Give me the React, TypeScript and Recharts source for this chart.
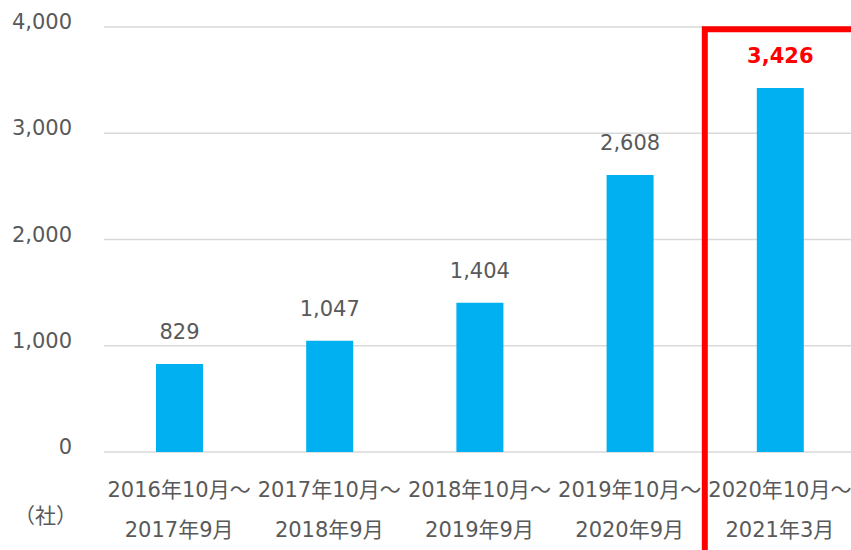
import { BarChart, Bar, XAxis, YAxis, CartesianGrid, LabelList, ReferenceArea } from 'recharts'

const periodStart = ['2016年10月～', '2017年10月～', '2018年10月～', '2019年10月～', '2020年10月～']
const periodEnd = ['2017年9月', '2018年9月', '2019年9月', '2020年9月', '2021年3月']
const companies = [829, 1047, 1404, 2608, 3426]
const yTicks = [0, 1000, 2000, 3000, 4000]

const data = periodStart.map((p, i) => ({ period: p, end: periodEnd[i], companies: companies[i] }))

const FONT = "'DejaVu Sans', 'Noto Sans CJK JP', sans-serif"
const GREY = '#595959'
const fmt = (v: number) => v.toLocaleString('en-US')

const XTick = (props: any) => {
  const { x, y, payload, index } = props
  return (
    <text x={x} textAnchor="middle" fill={GREY} fontSize={21} fontFamily={FONT}>
      <tspan x={x} y={y + 37}>{payload.value}</tspan>
      <tspan x={x} y={y + 77}>{periodEnd[index]}</tspan>
    </text>
  )
}

const YTick = (props: any) => {
  const { x, y, payload } = props
  return (
    <text x={x} y={y} dy={2} textAnchor="end" fill={GREY} fontSize={21} fontFamily={FONT}>
      {fmt(payload.value)}
    </text>
  )
}

const ValueLabel = (props: any) => {
  const { x, y, width, value, index } = props
  const last = index === companies.length - 1
  return (
    <text
      x={x + width / 2}
      y={y - 25}
      textAnchor="middle"
      fill={last ? '#ff0000' : GREY}
      fontWeight={last ? 700 : 400}
      fontSize={21}
      fontFamily={FONT}
    >
      {fmt(value)}
    </text>
  )
}

export default function App() {
  return (
    <div style={{ position: 'relative', width: 851, height: 550, overflow: 'hidden', background: '#fff' }}>
      <style>{'body { margin: 0; }'}</style>
      <BarChart width={855} height={550} data={data} margin={{ top: 27, right: 0, left: 0, bottom: 0 }}>
        <CartesianGrid vertical={false} stroke="#d9d9d9" strokeWidth={1.5} />
        <XAxis dataKey="period" height={98} tick={<XTick />} tickLine={false} axisLine={false} interval={0} />
        <YAxis
          width={104}
          domain={[0, 4000]}
          ticks={yTicks}
          tick={<YTick />}
          tickLine={false}
          axisLine={false}
          tickMargin={26}
        />
        <Bar dataKey="companies" fill="#00b0f0" barSize={47} isAnimationActive={false}>
          <LabelList dataKey="companies" content={<ValueLabel />} />
        </Bar>
        <ReferenceArea
          x1={periodStart[4]}
          x2={periodStart[4]}
          y1={-1000}
          y2={3980}
          ifOverflow="visible"
          fill="none"
          fillOpacity={0}
          stroke="#ff0000"
          strokeWidth={6}
        />
      </BarChart>
      <div
        style={{
          position: 'absolute',
          left: 14,
          top: 503,
          fontSize: 21,
          color: GREY,
          fontFamily: FONT,
          lineHeight: '26px',
        }}
      >
        （社）
      </div>
    </div>
  )
}
